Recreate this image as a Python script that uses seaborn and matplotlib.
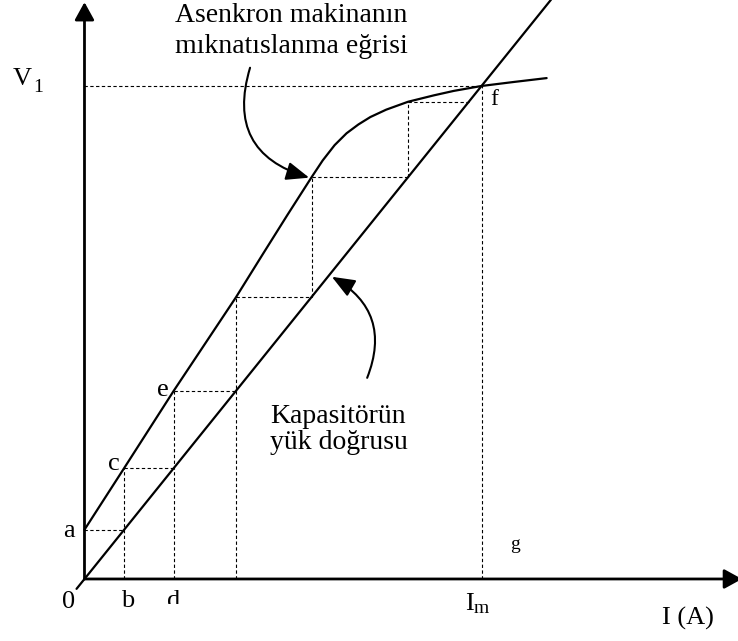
import matplotlib
matplotlib.use("Agg")
import matplotlib.pyplot as plt
from matplotlib.transforms import Bbox
import numpy as np
import pandas as pd
import seaborn as sns

# Magnetization curve of the induction machine (current I, voltage V)
mag_I = [0.0, 1.0, 2.25, 3.82, 4.5, 5.1, 5.72, 6.0, 6.3, 6.6, 6.9, 7.2, 7.6, 8.15,
         8.8, 9.3, 10.0, 10.8, 11.64]
mag_V = [1.0, 2.25, 3.82, 5.72, 6.6, 7.37, 8.15, 8.49, 8.80, 9.04, 9.22, 9.37, 9.52,
         9.68, 9.81, 9.90, 10.0, 10.08, 10.16]

# Capacitor load line (V = I in these units)
load_I = [-0.2, 11.75]
load_V = [-0.2, 11.75]

# Self-excitation build-up steps
step_V = [1.0, 2.25, 3.82, 5.72, 8.15, 9.68]      # horizontal levels
step_I = [1.0, 2.25, 3.82, 5.72, 8.15]            # vertical positions
step_from_axis = [True, True, True, False, False]

# Operating point f
I_m = 10.0
V_1 = 10.0

sns.set_theme(style="white")
plt.rcParams["font.family"] = ["Liberation Serif", "DejaVu Serif"]
plt.rcParams["text.color"] = "black"

fig = plt.figure(figsize=(7.38, 6.41), dpi=100)
ax = fig.add_axes([0, 0, 1, 1])
ax.set_xlim(-2.128, 16.46)
ax.set_ylim(-1.258, 11.744)
ax.set_axis_off()

# coordinate axes with arrow heads
axis_kw = dict(arrowstyle="-|>,head_length=0.4,head_width=0.22", lw=2.0,
               color="black", mutation_scale=27, shrinkA=0, shrinkB=0)
ax.annotate("", xy=(0, 11.70), xytext=(0, 0), arrowprops=axis_kw,
            annotation_clip=False)
ax.annotate("", xy=(16.56, 0), xytext=(0, 0), arrowprops=axis_kw,
            annotation_clip=False)

# dashed construction lines
dash = dict(color="black", lw=0.8, linestyle=(0, (3, 2.2)))
prev_I = 0.0
for k, v in enumerate(step_V):
    ax.plot([prev_I, v], [v, v], **dash)
    if k < len(step_I):
        x = step_I[k]
        bottom = 0.0 if step_from_axis[k] else x
        ax.plot([x, x], [bottom, step_V[k + 1]], **dash)
        prev_I = x
ax.plot([0, I_m], [V_1, V_1], **dash)
ax.plot([I_m, I_m], [0, V_1], **dash)

# curves
curves = pd.DataFrame({"I": mag_I, "V": mag_V})
sns.lineplot(data=curves, x="I", y="V", ax=ax, color="black", lw=1.6,
             sort=False, estimator=None)
sns.lineplot(x=load_I, y=load_V, ax=ax, color="black", lw=1.6,
             sort=False, estimator=None)

# curved pointer arrows
ptr_kw = dict(arrowstyle="-|>,head_length=0.7,head_width=0.28", mutation_scale=20,
              lw=1.5, color="black", shrinkA=0, shrinkB=0)
ax.annotate("", xy=(5.66, 8.14), xytext=(4.17, 10.37),
            arrowprops=dict(ptr_kw, connectionstyle="arc3,rad=0.5"))
ax.annotate("", xy=(6.23, 6.13), xytext=(7.12, 4.08),
            arrowprops=dict(ptr_kw, connectionstyle="arc3,rad=0.43"))

# texts
big = 20
ax.text(2.28, 11.30, "Asenkron makinanın", fontsize=big, ha="left", va="baseline")
ax.text(2.28, 10.67, "mıknatıslanma eğrisi", fontsize=big, ha="left", va="baseline")
ax.text(4.68, 3.16, "Kapasitörün", fontsize=big, ha="left", va="baseline")
ax.text(4.68, 2.64, "yük doğrusu", fontsize=big, ha="left", va="baseline")

ax.text(-1.80, 10.02, "V", fontsize=19, ha="left", va="baseline")
ax.text(-1.30, 9.88, "1", fontsize=14, ha="left", va="baseline")

lab = 19
ax.text(-0.40, 0.85, "a", fontsize=lab, ha="center", va="baseline")
ax.text(0.73, 2.21, "c", fontsize=lab, ha="center", va="baseline")
ax.text(1.98, 3.72, "e", fontsize=lab, ha="center", va="baseline")
ax.text(10.31, 9.61, "f", fontsize=17, ha="center", va="baseline")
ax.text(10.84, 0.61, "g", fontsize=14, ha="center", va="baseline")
ax.text(-0.40, -0.59, "0", fontsize=lab, ha="center", va="baseline")
ax.text(1.08, -0.57, "b", fontsize=lab, ha="center", va="baseline")
td = ax.text(2.24, -0.57, "d", fontsize=lab, ha="center", va="baseline")
td.set_clip_box(Bbox.from_extents(150, 641 - 604, 200, 641))
td.set_clip_on(True)
ax.text(9.58, -0.63, "I", fontsize=lab, ha="left", va="baseline")
ax.text(9.81, -0.69, "m", fontsize=14, ha="left", va="baseline")
ax.text(15.2, -0.93, "I (A)", fontsize=lab, ha="center", va="baseline")

fig.savefig("out.png", dpi=100)
